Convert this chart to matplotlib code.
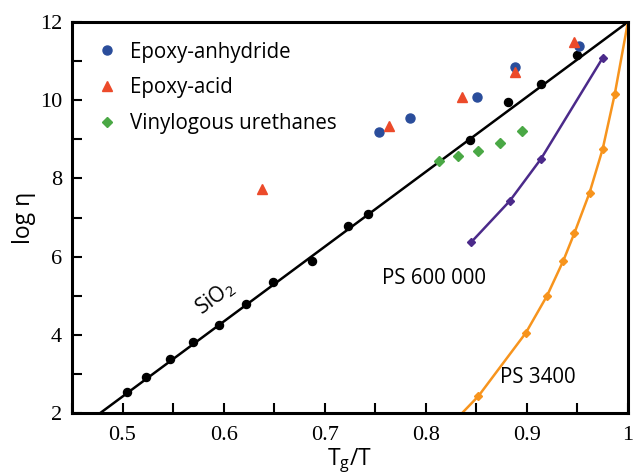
import matplotlib
matplotlib.use("Agg")
import matplotlib.pyplot as plt
from matplotlib.ticker import MultipleLocator

# SiO2 reference line and points
sio2_line_x = [0.478, 1.0]
sio2_line_y = [2.0, 12.0]
sio2_x = [0.504, 0.523, 0.547, 0.570, 0.595, 0.622, 0.649, 0.687, 0.723, 0.743, 0.844, 0.881, 0.914, 0.950]
sio2_y = [2.54, 2.92, 3.38, 3.81, 4.25, 4.79, 5.35, 5.89, 6.78, 7.09, 8.98, 9.95, 10.41, 11.16]

anh_x = [0.754, 0.784, 0.851, 0.888, 0.952]
anh_y = [9.19, 9.54, 10.08, 10.85, 11.39]

acid_x = [0.638, 0.764, 0.836, 0.888, 0.947]
acid_y = [7.73, 9.34, 10.08, 10.72, 11.48]

vu_x = [0.813, 0.832, 0.852, 0.873, 0.895]
vu_y = [8.45, 8.57, 8.70, 8.91, 9.21]

ps600k_x = [0.845, 0.883, 0.914, 0.975]
ps600k_y = [6.37, 7.42, 8.50, 11.08]

ps3400_x = [0.836, 0.852, 0.899, 0.920, 0.936, 0.947, 0.962, 0.975, 0.987, 1.0]
ps3400_y = [2.0, 2.43, 4.05, 5.00, 5.89, 6.60, 7.63, 8.75, 10.16, 12.0]

fig = plt.figure(figsize=(6.33, 4.75), dpi=100)
ax = fig.add_axes([0.1137, 0.1305, 0.992 - 0.1137, 0.9537 - 0.1305])

ax.plot(sio2_line_x, sio2_line_y, color="black", lw=1.8, zorder=2)
ax.plot(sio2_x, sio2_y, "o", color="black", ms=5.8, zorder=3)

ax.plot(ps600k_x, ps600k_y, "-D", color="#4b2a8a", lw=1.8, ms=4, zorder=2)
ax.plot(ps3400_x, ps3400_y, "-D", color="#f7941d", lw=1.8, ms=4,
        markevery=list(range(1, len(ps3400_x) - 1)), zorder=2)

ax.plot(anh_x, anh_y, "o", color="#2a4d9b", ms=6.5, label="Epoxy-anhydride", zorder=4)
ax.plot(acid_x, acid_y, "^", color="#ec4a2a", ms=7, label="Epoxy-acid", zorder=4)
ax.plot(vu_x, vu_y, "D", color="#4aa845", ms=5, label="Vinylogous urethanes", zorder=4)

ax.set_xlim(0.45, 1.0)
ax.set_ylim(2, 12)
ax.xaxis.set_major_locator(MultipleLocator(0.1))
ax.xaxis.set_minor_locator(MultipleLocator(0.05))
ax.yaxis.set_major_locator(MultipleLocator(2))
ax.yaxis.set_minor_locator(MultipleLocator(1))
ax.set_xticklabels([], minor=True)
ax.tick_params(which="both", direction="in", length=7, width=1.5, top=False, right=False)
ax.tick_params(axis="x", which="major", labelsize=16, pad=9)
ax.tick_params(axis="y", which="major", labelsize=16, pad=7)
for lab in ax.get_xticklabels() + ax.get_yticklabels():
    lab.set_family("Liberation Serif")
ax.xaxis.set_major_formatter(plt.FuncFormatter(lambda v, p: "1" if abs(v - 1) < 1e-9 else f"{v:.1f}"))
for s in ax.spines.values():
    s.set_linewidth(2.2)

ax.set_xlabel("T$_\\mathregular{g}$/T", family="Open Sans", fontsize=16.5, labelpad=1)
ax.set_ylabel("log η", family="Open Sans", fontsize=16.5, labelpad=3)

ax.text(0.592, 4.94, "SiO$_\\mathregular{2}$", family="Open Sans", fontsize=15,
        rotation=36.6, ha="center", va="center")
ax.text(0.808, 5.43, "PS 600 000", family="Open Sans", fontsize=14.8, ha="center", va="center")
ax.text(0.911, 2.92, "PS 3400", family="Open Sans", fontsize=14.8, ha="center", va="center")

leg = ax.legend(loc="upper left", frameon=False, prop={"family": "Open Sans", "size": 14.8},
                handletextpad=0.35, labelspacing=0.72, borderaxespad=0.55, handlelength=1.5,
                borderpad=0.4)

fig.savefig("out.png", dpi=100)
